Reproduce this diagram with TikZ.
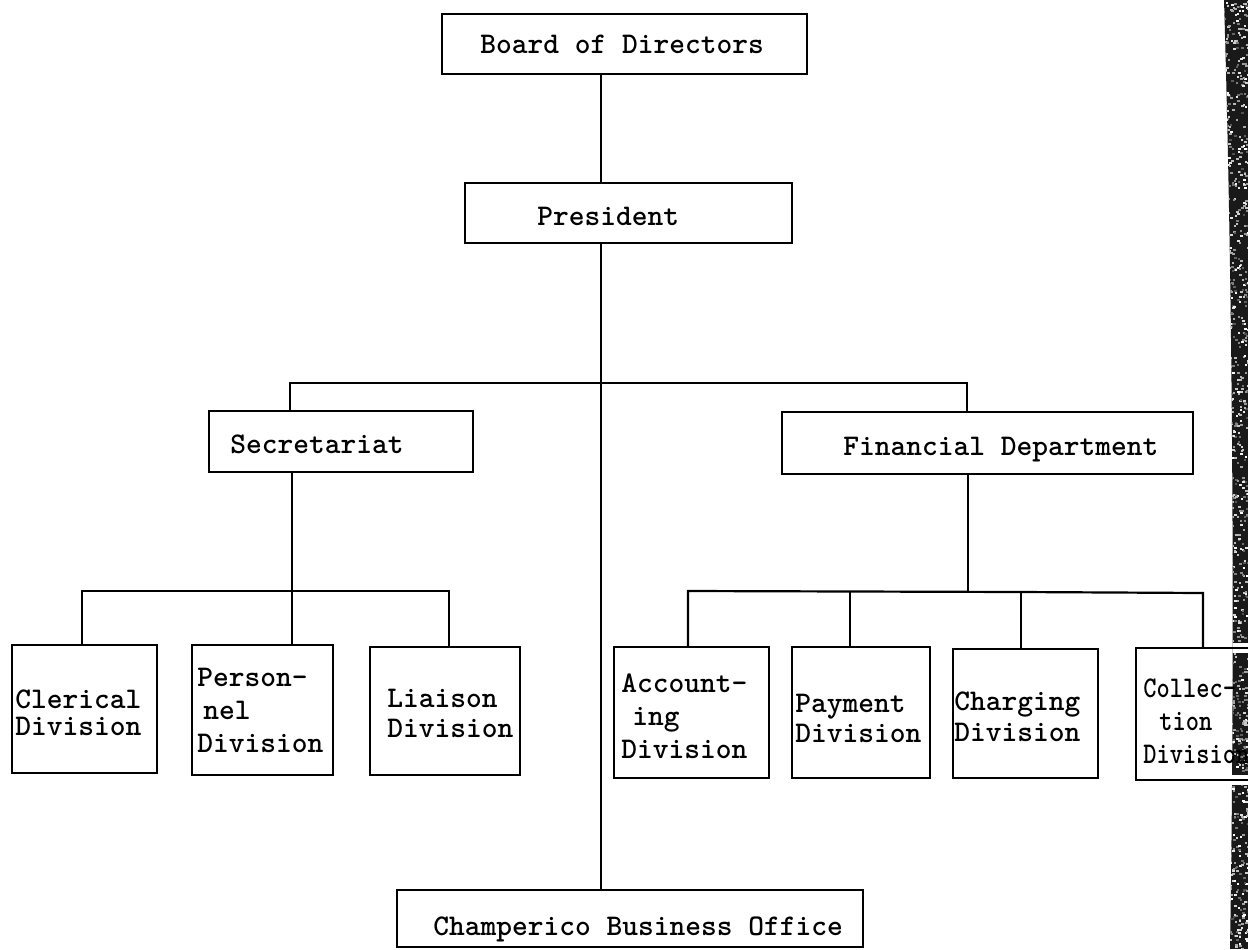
\documentclass[tikz,border=0pt]{standalone}
\usepackage{graphicx}
\newcommand{\stackl}[1]{\begin{tabular}[t]{@{}l@{}}#1\end{tabular}}
\begin{document}
\begin{tikzpicture}[x=0.5pt,y=-0.5pt,
  box/.style={draw, line width=1.2pt, inner sep=0pt},
  lbl/.style={inner sep=0pt, anchor=base west, font=\ttfamily\bfseries\fontsize{15}{16.5}\selectfont},
  wire/.style={line width=1.1pt}]
\useasboundingbox (0,0) rectangle (1248,949);
\clip (0,0) rectangle (1248,949);
\fill[white] (0,0) rectangle (1248,949);

% dark, mottled page edge on the right
\begin{scope}
  \clip (1224,0) .. controls (1233,300) and (1235,650) .. (1230,949) -- (1248,949) -- (1248,0) -- cycle;
  \fill[black!90] (1200,0) rectangle (1248,949);
  \pgfmathsetseed{4}
  \foreach \i in {1,...,1100}{
    \pgfmathsetmacro{\xx}{1221+27*rnd}
    \pgfmathsetmacro{\yy}{949*rnd}
    \pgfmathsetmacro{\gg}{30+70*rnd}
    \fill[white!\gg!black] (\xx,\yy) rectangle ++(2.5,2);
  }
  \fill[white] (1220,643) rectangle (1248,653);
  \fill[white] (1220,775) rectangle (1248,785);
\end{scope}

% boxes
\node[box, minimum width=182.5pt, minimum height=30pt] (board) at (624.5,44) {};
\node[box, minimum width=163.5pt, minimum height=30pt] (pres) at (628.5,213) {};
\node[box, minimum width=132pt, minimum height=30.5pt] (sec) at (341,441.5) {};
\node[box, minimum width=205.5pt, minimum height=31pt] (fin) at (987.5,443) {};
\node[box, minimum width=72.5pt, minimum height=64pt] (cler) at (84.5,709) {};
\node[box, minimum width=70.5pt, minimum height=65pt] (pers) at (262.5,710) {};
\node[box, minimum width=75pt, minimum height=64pt] (liai) at (445,711) {};
\node[box, minimum width=77.5pt, minimum height=65.5pt] (acct) at (691.5,712.5) {};
\node[box, minimum width=69pt, minimum height=65.5pt] (pay) at (861,712.5) {};
\node[box, minimum width=72.5pt, minimum height=64.5pt] (chg) at (1025.5,713.5) {};
\node[box, minimum width=63pt, minimum height=66pt] (coll) at (1199,714) {};
\node[box, minimum width=233pt, minimum height=28.5pt] (champ) at (630,918.5) {};

% labels
\node[lbl] (board-t) at (480,53) {Board of Directors};
\node[lbl] (pres-t) at (537,225) {President};
\node[lbl] (sec-t) at (230,453) {Secretariat};
\node[lbl] (fin-t) at (843,455) {Financial Department};
\node[lbl] (cler-t) at (15,708) {\stackl{Clerical\\[-3pt]Division}};
\node[lbl] (pers-t) at (197,686) {\stackl{Person-\\\hspace{3pt}nel\\Division}};
\node[lbl] (liai-t) at (387,707) {\stackl{Liaison\\[-1.5pt]Division}};
\node[lbl] (acct-t) at (621,692) {\stackl{Account-\\\hspace{5.5pt}ing\\Division}};
\node[lbl] (pay-t) at (795,712) {\stackl{Payment\\[-1.5pt]Division}};
\node[lbl] (chg-t) at (954,710) {\stackl{Charging\\[-1pt]Division}};
\node[lbl] (coll-t) at (1143,697) {\scalebox{0.84}[1]{\stackl{Collec-\\\hspace{9.5pt}tion\\Division}}};
\node[lbl] (champ-t) at (433,935) {Champerico Business Office};

% connector positions
\coordinate (tk) at (601,0);
\coordinate (sx) at (290,383);
\coordinate (fx) at (967,383);
\coordinate (sx2) at (292,0);
\coordinate (c1) at (82,591);
\coordinate (c3) at (449,591);
\coordinate (fx2) at (968,591);
\coordinate (f1) at (688,591);
\coordinate (f2) at (850,591);
\coordinate (f3) at (1021,592);
\coordinate (f4) at (1203,593);

% connectors
\draw[wire] (board.south -| tk) -- (pres.north -| tk);
\draw[wire] (pres.south -| tk) -- (champ.north -| tk);
\draw[wire] (sec.north -| sx) -- (sx) -- (fx) -- (fin.north -| fx);
\draw[wire] (sec.south -| sx2) -- (pers.north -| sx2);
\draw[wire] (cler.north -| c1) -- (c1) -- (c3) -- (liai.north -| c3);
\draw[wire] (fin.south -| fx2) -- (fx2);
\draw[wire] (acct.north -| f1) -- (f1) -- (f3) -- (f4) -- (coll.north -| f4);
\draw[wire] (f2) -- (pay.north -| f2);
\draw[wire] (f3) -- (chg.north -| f3);
\end{tikzpicture}
\end{document}
